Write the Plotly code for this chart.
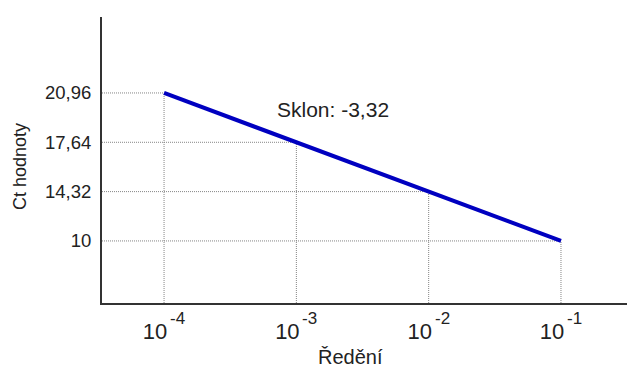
import math
import plotly.graph_objects as go

# ---- data ----
dilution = [1e-4, 1e-3, 1e-2, 1e-1]
dilution_base = ["10", "10", "10", "10"]
dilution_exp = ["-4", "-3", "-2", "-1"]
ct_labels = ["20,96", "17,64", "14,32", "10"]
slope_text = "Sklon: -3,32"
x_title = "Ředění"
y_title = "Ct hodnoty"

# schematic (equally spaced) y positions for the Ct labels
n = len(ct_labels)
ct_pos = [n - 1 - i for i in range(n)]

W, H = 627, 370
ML, MR, MT, MB = 102, 0, 17, 67
xr = [-4.469, -0.501]
yr = [-1.258, 4.54]
FONT = "Liberation Sans, Arial, sans-serif"
TXT = "#222222"
GRID = "#858585"

fig = go.Figure()

# dotted drop lines
for d, p in zip(dilution, ct_pos):
    fig.add_trace(go.Scatter(x=[10 ** xr[0], d], y=[p, p], mode="lines",
                             line=dict(color=GRID, width=1, dash="1px,1px"),
                             hoverinfo="skip", showlegend=False))
    fig.add_trace(go.Scatter(x=[d, d], y=[yr[0], p], mode="lines",
                             line=dict(color=GRID, width=1, dash="1px,1px"),
                             hoverinfo="skip", showlegend=False))

# main line
fig.add_trace(go.Scatter(x=dilution, y=ct_pos, mode="lines",
                         line=dict(color="#0000c0", width=4),
                         showlegend=False))

pw = W - ML - MR
ph = H - MT - MB

def px(x):
    return (x - ML) / pw

def py(y):
    return (H - MB - y) / ph

fig.add_annotation(text=slope_text, x=px(333), y=py(109), xref="paper", yref="paper",
                   showarrow=False, xanchor="center", yanchor="middle",
                   font=dict(size=21, color=TXT, family=FONT))
fig.add_annotation(text=x_title, x=px(350), y=py(357), xref="paper", yref="paper",
                   showarrow=False, xanchor="center", yanchor="middle",
                   font=dict(size=20, color=TXT, family=FONT))
fig.add_annotation(text=y_title, x=px(20), y=py(167), xref="paper", yref="paper",
                   showarrow=False, xanchor="center", yanchor="middle", textangle=-90,
                   font=dict(size=18, color=TXT, family=FONT))

# exponents of the x tick labels (log axis -> annotation x in log10 units)
for d, e in zip(dilution, dilution_exp):
    fig.add_annotation(text=e, x=math.log10(d), xref="x", y=py(318.5), yref="paper",
                       showarrow=False, xanchor="left", yanchor="middle", xshift=4,
                       font=dict(size=17, color=TXT, family=FONT))

fig.update_xaxes(type="log", range=xr, tickvals=dilution, ticktext=dilution_base,
                 showgrid=False, zeroline=False, showline=True, linecolor="#333",
                 linewidth=2, ticks="", ticklabelstandoff=8, ticklabelshift=-9,
                 tickfont=dict(size=22, color=TXT, family=FONT))
fig.update_yaxes(range=yr, tickvals=ct_pos, ticktext=ct_labels,
                 showgrid=False, zeroline=False, showline=True, linecolor="#333",
                 linewidth=2, ticks="", ticklabelstandoff=5,
                 tickfont=dict(size=18.5, color=TXT, family=FONT))

fig.update_layout(width=W, height=H, margin=dict(l=ML, r=MR, t=MT, b=MB),
                  paper_bgcolor="white", plot_bgcolor="white",
                  font=dict(family=FONT))

fig.write_html("out.html", config={"displayModeBar": False},
               post_script="document.body.style.margin='0';")
